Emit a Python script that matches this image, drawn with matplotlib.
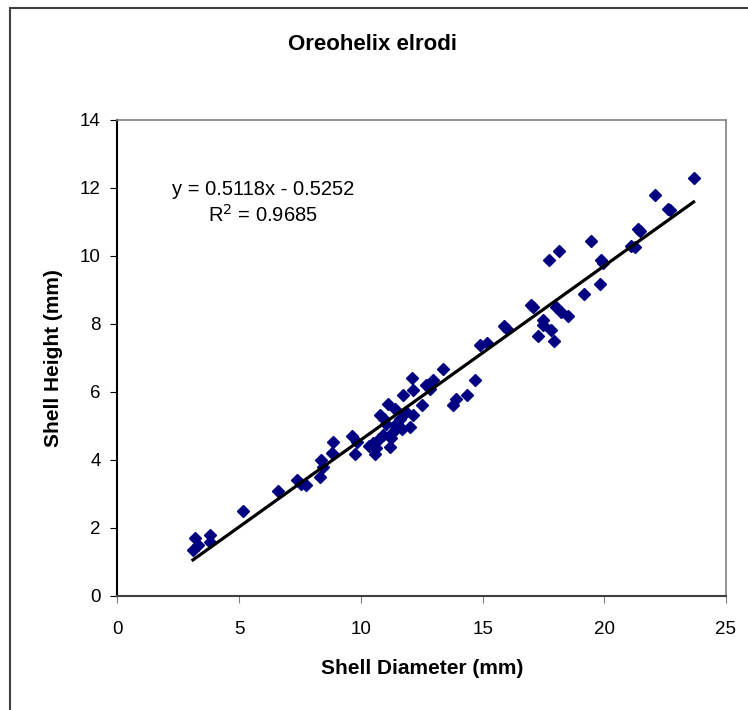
import matplotlib.pyplot as plt
from matplotlib.patches import Rectangle

plt.rcParams['font.family'] = ['Liberation Sans', 'DejaVu Sans']

diameter = [3.1, 3.2, 3.3, 3.8, 3.8, 5.16, 6.6, 7.38, 7.55, 7.74, 8.3, 8.38, 8.45,
            8.86, 8.8, 9.63, 9.84, 9.75, 10.34, 10.57, 10.75, 11.19, 10.78, 11.12,
            11.02, 11.46, 11.6, 12.0, 12.14, 11.73, 12.08, 12.14, 12.49, 12.69,
            12.96, 12.83, 13.37, 13.79, 13.9, 14.36, 14.7, 14.88, 15.18, 15.87,
            16.0, 10.5, 10.9, 11.3, 11.5, 11.7, 10.62, 11.85, 11.4, 10.95, 11.25,
            17.07, 17.0, 17.48, 17.48, 17.27, 17.82, 17.92, 17.73, 18.14, 18.03,
            18.23, 18.5, 19.15, 19.81, 19.47, 19.88, 19.95, 21.11, 21.25, 21.38,
            21.45, 22.09, 22.61, 22.7, 23.67]
height = [1.36, 1.72, 1.5, 1.78, 1.6, 2.5, 3.09, 3.4, 3.3, 3.26, 3.5, 3.99, 3.8,
          4.53, 4.2, 4.7, 4.53, 4.17, 4.4, 4.19, 4.63, 4.38, 5.31, 5.66,
          5.07, 4.97, 5.22, 4.97, 5.32, 5.91, 6.4, 6.05, 5.62, 6.2,
          6.35, 6.1, 6.69, 5.61, 5.8, 5.9, 6.35, 7.37, 7.45, 7.94,
          7.85, 4.5, 4.75, 4.82, 5.1, 4.9, 4.35, 5.4, 5.5, 5.2, 4.65,
          8.5, 8.55, 8.11, 7.96, 7.64, 7.81, 7.49, 9.89, 10.15, 8.5,
          8.35, 8.23, 8.89, 9.17, 10.43, 9.89, 9.78, 10.3, 10.27, 10.8,
          10.75, 11.8, 11.39, 11.36, 12.28]

slope = 0.5118
intercept = -0.5252
r2 = 0.9685

fig = plt.figure(figsize=(7.48, 7.1), dpi=100)
fig.patches.append(Rectangle((10 / 748, -0.1), 1.2, (710 - 8) / 710 + 0.1,
                             transform=fig.transFigure, fill=False,
                             edgecolor='#404040', linewidth=1.5))

ax = fig.add_axes([117.5 / 748, 114 / 710, 608.5 / 748, 476 / 710])
ax.plot(diameter, height, linestyle='none', marker='D', markersize=6.2,
        color='#000080')

x0, x1 = min(diameter), max(diameter)
ax.plot([x0, x1], [slope * x0 + intercept, slope * x1 + intercept],
        color='black', linewidth=2.3)

ax.set_xlim(0, 25)
ax.set_ylim(0, 14)
ax.set_xticks(range(0, 26, 5))
ax.set_yticks(range(0, 15, 2))
ax.tick_params(axis='x', direction='out', length=5, color='#808080',
               labelsize=13.5, pad=13)
ax.tick_params(axis='y', direction='out', length=5, color='black',
               labelsize=13.5, pad=7)

ax.spines['left'].set_color('black')
ax.spines['left'].set_linewidth(1.5)
ax.spines['bottom'].set_color('#404040')
ax.spines['bottom'].set_linewidth(1.5)
for side in ['top', 'right']:
    ax.spines[side].set_color('#808080')
    ax.spines[side].set_linewidth(1.2)

ax.set_xlabel('Shell Diameter (mm)', fontsize=15, fontweight='bold', labelpad=15)
ax.set_ylabel('Shell Height (mm)', fontsize=15, fontweight='bold', labelpad=12)

fig.text(373 / 748, 1 - 44 / 710, 'Oreohelix elrodi', ha='center', va='center',
         fontsize=16, fontweight='bold')

ax.text(5.98, 11.95, f'y = {slope}x - {abs(intercept)}', ha='center',
        va='center', fontsize=14.5)
ax.text(5.98, 11.2, f'R$^2$ = {r2}', ha='center', va='center', fontsize=14.5)

fig.savefig('out.png', dpi=100)
